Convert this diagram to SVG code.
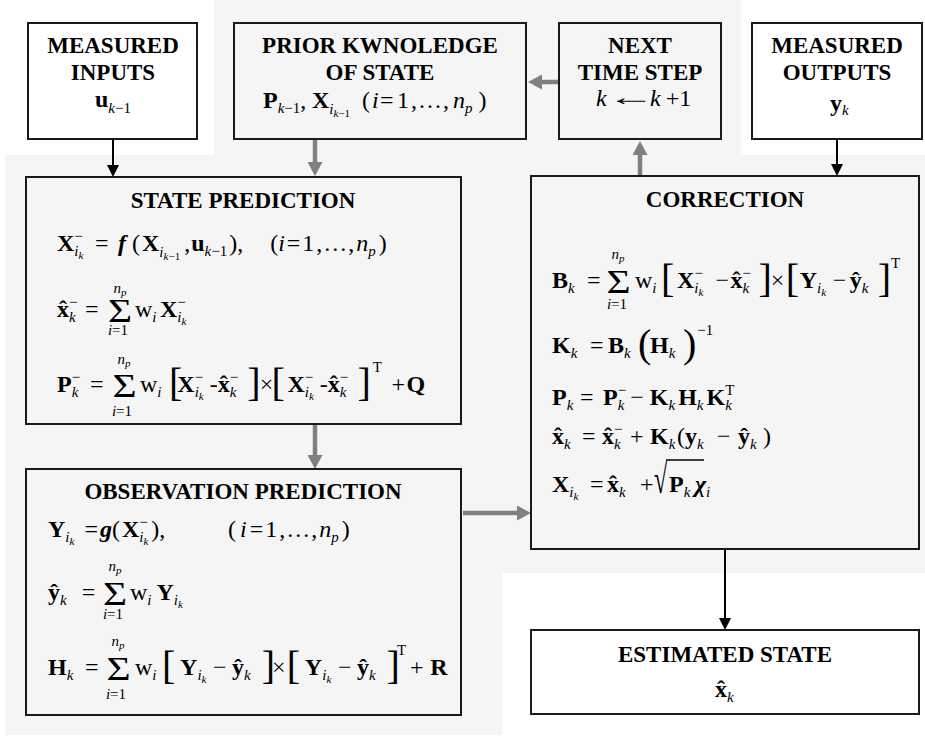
<svg xmlns="http://www.w3.org/2000/svg" width="925" height="737" viewBox="0 0 925 737">
<defs>
<style>
.tx{font-family:"Liberation Serif","Times New Roman",serif;fill:#000;font-size:24px}
.hd{font-weight:bold;text-anchor:middle;font-size:23px}
.b{font-weight:bold}
.i{font-style:italic}
.n{font-style:normal}
.s{font-size:15px}
.x{font-size:11px}
.br{font-size:40px;font-weight:normal}
.sg{font-size:34px;text-anchor:middle}
.lim{font-size:15px;font-style:italic;text-anchor:middle}
.dots{letter-spacing:2px}
.box{stroke:#1a1a1a;stroke-width:2}
.w{fill:#fff}
.g{fill:#f5f5f5}
.cb{stroke:#000;stroke-width:2;fill:none}
.cg{stroke:#808080;stroke-width:4.5;fill:none}
</style>
<marker id="ab" markerUnits="userSpaceOnUse" markerWidth="12" markerHeight="12" viewBox="0 0 12 12" refX="1" refY="6" orient="auto"><path d="M0,0 L12,6 L0,12 z" fill="#000"/></marker>
<marker id="ag" markerUnits="userSpaceOnUse" markerWidth="14" markerHeight="15" viewBox="0 0 14 15" refX="1" refY="7.5" orient="auto"><path d="M0,0 L14,7.5 L0,15 z" fill="#808080"/></marker>
</defs>
<rect width="925" height="737" fill="#fff"/>
<path d="M214,0 H741 V155 H925 V573 H502 V735 H5 V155 H214 Z" fill="#f5f5f5"/>

<g id="connectors">
<path class="cb" d="M113,139 V166" marker-end="url(#ab)"/>
<path class="cg" d="M315,139 V163" marker-end="url(#ag)"/>
<path class="cg" d="M559,82 H541" marker-end="url(#ag)"/>
<path class="cg" d="M640,176 V154" marker-end="url(#ag)"/>
<path class="cb" d="M837,139 V165" marker-end="url(#ab)"/>
<path class="cg" d="M315,424 V456" marker-end="url(#ag)"/>
<path class="cg" d="M463,513 H518" marker-end="url(#ag)"/>
<path class="cb" d="M725,549 V619" marker-end="url(#ab)"/>
</g>

<g id="measured-inputs">
<rect class="box w" x="28" y="23" width="169" height="116"/>
<text class="tx hd" x="113" y="53">MEASURED</text>
<text class="tx hd" x="113" y="80">INPUTS</text>
<text class="tx" x="95" y="107"><tspan class="b">u</tspan><tspan class="s i" dy="6">k</tspan><tspan class="s">−1</tspan></text>
</g>

<g id="prior-knowledge">
<rect class="box g" x="234" y="23" width="292" height="116"/>
<text class="tx hd" x="380" y="53">PRIOR KWNOLEDGE</text>
<text class="tx hd" x="380" y="80">OF STATE</text>
<text class="tx" x="263" y="108"><tspan class="b">P</tspan><tspan class="s i" dy="5">k</tspan><tspan class="s">−1</tspan><tspan dy="-5">,</tspan><tspan class="b" dx="5.6">X</tspan><tspan class="s i" dy="6">i</tspan><tspan class="x i" dy="3">k</tspan><tspan class="x">−1</tspan><tspan dx="12" dy="-9">(</tspan><tspan class="i" dx="2">i</tspan><tspan dx="1.3">=</tspan><tspan class="dots" dx="3.5">1,...,</tspan><tspan class="i" dx="2">n</tspan><tspan class="s i" dy="5">p</tspan><tspan dx="6" dy="-5">)</tspan></text>
</g>

<g id="next-time-step">
<rect class="box g" x="559" y="23" width="162" height="116"/>
<text class="tx hd" x="640" y="53">NEXT</text>
<text class="tx hd" x="640" y="80">TIME STEP</text>
<text class="tx i" x="596" y="106">k</text>
<text class="tx" font-size="34" transform="translate(607,105) scale(2,1)">←</text>
<text class="tx" x="650" y="106"><tspan class="i">k</tspan><tspan dx="5">+1</tspan></text>
</g>

<g id="measured-outputs">
<rect class="box w" x="752" y="23" width="170" height="116"/>
<text class="tx hd" x="837" y="53">MEASURED</text>
<text class="tx hd" x="837" y="80">OUTPUTS</text>
<text class="tx" x="830" y="111"><tspan class="b">y</tspan><tspan class="s i" dy="4">k</tspan></text>
</g>

<g id="state-prediction">
<rect class="box g" x="26" y="177" width="435" height="247"/>
<text class="tx hd" x="243" y="208">STATE PREDICTION</text>
<text class="tx" x="57" y="251"><tspan class="b">X</tspan><tspan class="s" dy="-10">−</tspan><tspan class="s i" dx="-8.5" dy="15">i</tspan><tspan class="x i" dy="3">k</tspan><tspan dx="11.6" dy="-8">=</tspan><tspan class="b i" dx="9.5">f</tspan><tspan dx="6">(</tspan><tspan class="b" dx="2">X</tspan><tspan class="s i" dy="6">i</tspan><tspan class="x i" dy="3">k</tspan><tspan class="x">−1</tspan><tspan dx="4" dy="-9">,</tspan><tspan class="b" dx="1">u</tspan><tspan class="s i" dy="5">k</tspan><tspan class="s">−1</tspan><tspan dx="2" dy="-5">),</tspan><tspan dx="27">(</tspan><tspan class="i">i</tspan><tspan dx="2">=</tspan><tspan class="dots" dx="2">1,...,</tspan><tspan class="i">n</tspan><tspan class="s i" dy="5">p</tspan><tspan dx="3" dy="-5">)</tspan></text>
<text class="tx" x="57" y="317"><tspan class="b">x</tspan><tspan class="b" dx="-10">ˆ</tspan><tspan class="s" dx="2" dy="-10">−</tspan><tspan class="s i" dx="-8.5" dy="15">k</tspan><tspan dx="9.3" dy="-5">=</tspan></text>
<text class="tx sg" transform="translate(120,322) scale(1.22,1)">Σ</text>
<text class="tx lim" x="120" y="293">n<tspan class="x" dy="3">p</tspan></text>
<text class="tx lim" x="118" y="335">i<tspan class="n">=1</tspan></text>
<text class="tx" x="135" y="317"><tspan>w</tspan><tspan class="s i" dy="5">i</tspan><tspan class="b" dx="3.5" dy="-5">X</tspan><tspan class="s" dy="-10">−</tspan><tspan class="s i" dx="-8.5" dy="15">i</tspan><tspan class="x i" dy="3">k</tspan></text>
<text class="tx" x="57" y="392"><tspan class="b">P</tspan><tspan class="s" dy="-10">−</tspan><tspan class="s i" dx="-8.5" dy="15">k</tspan><tspan dx="11.6" dy="-5">=</tspan></text>
<text class="tx sg" transform="translate(124.5,397) scale(1.22,1)">Σ</text>
<text class="tx lim" x="124" y="364">n<tspan class="x" dy="3">p</tspan></text>
<text class="tx lim" x="122" y="416">i<tspan class="n">=1</tspan></text>
<text class="tx" x="140" y="392"><tspan>w</tspan><tspan class="s i" dy="5">i</tspan><tspan class="br" dx="7.5" dy="-1">[</tspan><tspan class="b" dx="-5" dy="-4">X</tspan><tspan class="s" dy="-10">−</tspan><tspan class="s i" dx="-8.5" dy="15">i</tspan><tspan class="x i" dy="3">k</tspan><tspan dx="6" dy="-8">-</tspan><tspan class="b">x</tspan><tspan class="b" dx="-10">ˆ</tspan><tspan class="s" dx="2" dy="-10">−</tspan><tspan class="s i" dx="-8.5" dy="15">k</tspan><tspan class="br" dx="11" dy="-1">]</tspan><tspan dx="-1" dy="-4">×</tspan><tspan class="br" dx="-1.8" dy="4">[</tspan><tspan class="b" dx="2.7" dy="-4">X</tspan><tspan class="s" dy="-10">−</tspan><tspan class="s i" dx="-8.5" dy="15">i</tspan><tspan class="x i" dy="3">k</tspan><tspan dx="6" dy="-8">-</tspan><tspan class="b">x</tspan><tspan class="b" dx="-10">ˆ</tspan><tspan class="s" dx="2" dy="-10">−</tspan><tspan class="s i" dx="-8.5" dy="15">k</tspan><tspan class="br" dx="11" dy="-1">]</tspan><tspan class="s" dx="2" dy="-24">T</tspan><tspan dx="9.4" dy="20">+</tspan><tspan class="b" dx="1.5">Q</tspan></text>
</g>

<g id="observation-prediction">
<rect class="box g" x="26" y="469" width="435" height="246"/>
<text class="tx hd" x="243" y="499">OBSERVATION PREDICTION</text>
<text class="tx" x="48" y="537"><tspan class="b">Y</tspan><tspan class="s i" dy="5">i</tspan><tspan class="x i" dy="3">k</tspan><tspan dx="10" dy="-8">=</tspan><tspan class="b i" dx="2">g</tspan><tspan>(</tspan><tspan class="b" dx="2">X</tspan><tspan class="s" dy="-10">−</tspan><tspan class="s i" dx="-8.5" dy="15">i</tspan><tspan class="x i" dy="3">k</tspan><tspan dx="3" dy="-8">),</tspan></text>
<text class="tx" x="228" y="537"><tspan>(</tspan><tspan class="i" dx="4">i</tspan><tspan dx="3">=</tspan><tspan class="dots" dx="2">1,...,</tspan><tspan class="i">n</tspan><tspan class="s i" dy="5">p</tspan><tspan dx="3" dy="-5">)</tspan></text>
<text class="tx" x="48" y="600"><tspan class="b">ŷ</tspan><tspan class="s i" dy="5">k</tspan><tspan dx="15" dy="-5">=</tspan></text>
<text class="tx sg" transform="translate(115,605) scale(1.22,1)">Σ</text>
<text class="tx lim" x="115" y="571">n<tspan class="x" dy="3">p</tspan></text>
<text class="tx lim" x="113" y="619">i<tspan class="n">=1</tspan></text>
<text class="tx" x="130" y="600"><tspan>w</tspan><tspan class="s i" dy="5">i</tspan><tspan class="b" dx="5" dy="-5">Y</tspan><tspan class="s i" dy="5">i</tspan><tspan class="x i" dy="3">k</tspan></text>
<text class="tx" x="48" y="675"><tspan class="b">H</tspan><tspan class="s i" dy="5">k</tspan><tspan dx="11.6" dy="-5">=</tspan></text>
<text class="tx sg" transform="translate(118.5,680) scale(1.22,1)">Σ</text>
<text class="tx lim" x="118" y="646">n<tspan class="x" dy="3">p</tspan></text>
<text class="tx lim" x="116" y="699">i<tspan class="n">=1</tspan></text>
<text class="tx" x="135" y="675"><tspan>w</tspan><tspan class="s i" dy="5">i</tspan><tspan class="br" dx="5.5" dy="-1">[</tspan><tspan class="b" dx="4.7" dy="-4">Y</tspan><tspan class="s i" dy="5">i</tspan><tspan class="x i" dy="3">k</tspan><tspan dx="6.6" dy="-8">−</tspan><tspan class="b" dx="5.5">ŷ</tspan><tspan class="s i" dy="5">k</tspan><tspan class="br" dx="11" dy="-1">]</tspan><tspan dx="-3" dy="-4">×</tspan><tspan class="br" dx="1.2" dy="4">[</tspan><tspan class="b" dx="4.7" dy="-4">Y</tspan><tspan class="s i" dy="5">i</tspan><tspan class="x i" dy="3">k</tspan><tspan dx="6.6" dy="-8">−</tspan><tspan class="b" dx="5.5">ŷ</tspan><tspan class="s i" dy="5">k</tspan><tspan class="br" dx="11" dy="-1">]</tspan><tspan class="s" dx="-3" dy="-24">T</tspan><tspan dx="4" dy="20">+</tspan><tspan class="b" dx="6.5">R</tspan></text>
</g>

<g id="correction">
<rect class="box g" x="531" y="176" width="388" height="373"/>
<text class="tx hd" x="725" y="207">CORRECTION</text>
<text class="tx" x="552" y="288"><tspan class="b">B</tspan><tspan class="s i" dy="5">k</tspan><tspan dx="12.3" dy="-5">=</tspan></text>
<text class="tx sg" transform="translate(618.5,293) scale(1.22,1)">Σ</text>
<text class="tx lim" x="618" y="259">n<tspan class="x" dy="3">p</tspan></text>
<text class="tx lim" x="617" y="309">i<tspan class="n">=1</tspan></text>
<text class="tx" x="635" y="288"><tspan>w</tspan><tspan class="s i" dy="5">i</tspan><tspan class="br" dx="4.5" dy="-1">[</tspan><tspan class="b" dx="2.7" dy="-4">X</tspan><tspan class="s" dy="-10">−</tspan><tspan class="s i" dx="-8.5" dy="15">i</tspan><tspan class="x i" dy="3">k</tspan><tspan dx="12" dy="-8">−</tspan><tspan class="b" dx="1.5">x</tspan><tspan class="b" dx="-10">ˆ</tspan><tspan class="s" dx="2" dy="-10">−</tspan><tspan class="s i" dx="-8.5" dy="15">k</tspan><tspan class="br" dx="9.5" dy="-1">]</tspan><tspan dx="-1.3" dy="-4">×</tspan><tspan class="br" dx="1.5" dy="4">[</tspan><tspan class="b" dx="0.7" dy="-4">Y</tspan><tspan class="s i" dy="5">i</tspan><tspan class="x i" dy="3">k</tspan><tspan dx="6.6" dy="-8">−</tspan><tspan class="b" dx="3.5">ŷ</tspan><tspan class="s i" dy="5">k</tspan><tspan class="br" dx="9.3" dy="-1">]</tspan><tspan class="s" dy="-24">T</tspan></text>
<text class="tx" x="552" y="353"><tspan class="b">K</tspan><tspan class="s i" dy="5">k</tspan><tspan dx="12.6" dy="-5">=</tspan><tspan class="b" dx="4.5">B</tspan><tspan class="s i" dy="5">k</tspan><tspan class="br" dx="7.3" dy="-1">(</tspan><tspan class="b" dx="-1.3" dy="-4">H</tspan><tspan class="s i" dy="5">k</tspan><tspan class="br" dx="7.6" dy="-1">)</tspan><tspan class="s" dx="1" dy="-22">−1</tspan></text>
<text class="tx" x="552" y="405"><tspan class="b">P</tspan><tspan class="s i" dy="5">k</tspan><tspan dx="6.6" dy="-5">=</tspan><tspan class="b" dx="9.5">P</tspan><tspan class="s" dy="-10">−</tspan><tspan class="s i" dx="-8.5" dy="15">k</tspan><tspan dx="6" dy="-5">−</tspan><tspan class="b" dx="6">K</tspan><tspan class="s i" dy="5">k</tspan><tspan class="b" dx="3" dy="-5">H</tspan><tspan class="s i" dy="5">k</tspan><tspan class="b" dx="3" dy="-5">K</tspan><tspan class="s" dy="-10">T</tspan><tspan class="s i" dx="-9.2" dy="15">k</tspan></text>
<text class="tx" x="552" y="444"><tspan class="b">x</tspan><tspan class="b" dx="-10">ˆ</tspan><tspan class="s i" dx="2" dy="5">k</tspan><tspan dx="11.3" dy="-5">=</tspan><tspan class="b" dx="6.5">x</tspan><tspan class="b" dx="-10">ˆ</tspan><tspan class="s" dx="2" dy="-10">−</tspan><tspan class="s i" dx="-8.5" dy="15">k</tspan><tspan dx="9.3" dy="-5">+</tspan><tspan class="b" dx="6.5">K</tspan><tspan class="s i" dy="5">k</tspan><tspan dx="1.6" dy="-5">(</tspan><tspan class="b">y</tspan><tspan class="s i" dy="5">k</tspan><tspan dx="13.3" dy="-5">−</tspan><tspan class="b" dx="7.5">ŷ</tspan><tspan class="s i" dy="5">k</tspan><tspan dx="6.3" dy="-5">)</tspan></text>
<text class="tx" x="552" y="492"><tspan class="b">X</tspan><tspan class="s i" dy="5">i</tspan><tspan class="x i" dy="3">k</tspan><tspan dx="11.6" dy="-8">=</tspan><tspan class="b" dx="3.5">x</tspan><tspan class="b" dx="-10">ˆ</tspan><tspan class="s i" dx="2" dy="5">k</tspan><tspan dx="14.3" dy="-5">+</tspan></text>
<text class="tx" font-size="40" transform="translate(654,493) scale(1,1.7)">√</text>
<line x1="666" y1="460" x2="704" y2="460" stroke="#000" stroke-width="1.6"/>
<text class="tx" x="669" y="492"><tspan class="b">P</tspan><tspan class="s i" dy="5">k</tspan><tspan class="b i" dx="4.6" dy="-5">χ</tspan><tspan class="s i" dy="5">i</tspan></text>
</g>

<g id="estimated-state">
<rect class="box w" x="531" y="630" width="388" height="84"/>
<text class="tx hd" x="725" y="662">ESTIMATED STATE</text>
<text class="tx" x="715" y="697"><tspan class="b">x</tspan><tspan class="b" dx="-10">ˆ</tspan><tspan class="s i" dx="2" dy="5">k</tspan></text>
</g>
</svg>
